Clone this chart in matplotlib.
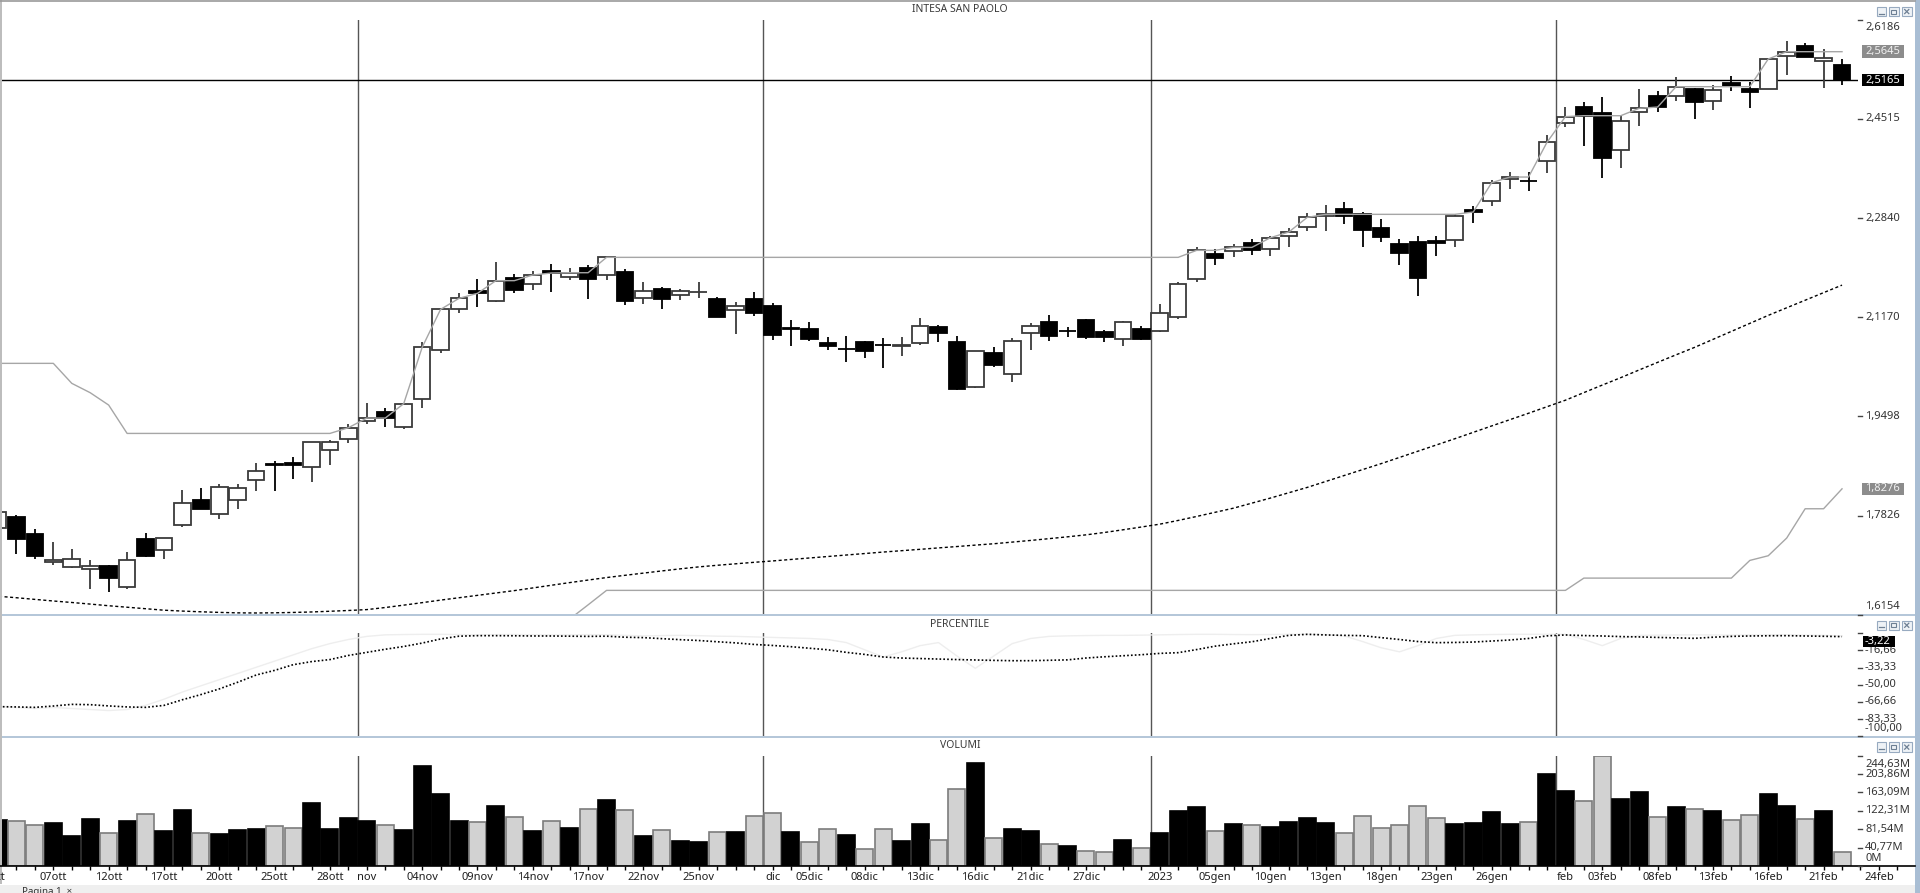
import matplotlib
matplotlib.use("Agg")
import matplotlib.pyplot as plt
from matplotlib import transforms
from matplotlib.patches import Rectangle
import numpy as np

plt.rcParams['font.family'] = ['Noto Sans', 'DejaVu Sans']

# ---------------- data ----------------
opens = [1.7609, 1.7794, 1.7513, 1.7041, 1.6963, 1.6923, 1.6980, 1.6625, 1.7423, 1.7244,
         1.7671, 1.8092, 1.7856, 1.8087, 1.8418, 1.8699, 1.8716, 1.8649, 1.8924, 1.9115,
         1.9424, 1.9576, 1.9312, 1.9784, 2.0616, 2.1301, 2.1610, 2.1447, 2.1835, 2.1728,
         2.1942, 2.1841, 2.2004, 2.1874, 2.1925, 2.1487, 2.1638, 2.1543, 2.1599, 2.1481,
         2.1290, 2.1475, 2.1363, 2.0981, 2.0970, 2.0728, 2.0638, 2.0745, 2.0705, 2.0683,
         2.0739, 2.1009, 2.0756, 1.9997, 2.0565, 2.0205, 2.0897, 2.1088, 2.0941, 2.1116,
         2.0925, 2.0807, 2.0970, 2.0936, 2.1178, 2.1818, 2.2228, 2.2279, 2.2414, 2.2318,
         2.2537, 2.2684, 2.2875, 2.2998, 2.2908, 2.2667, 2.2403, 2.2431, 2.2453, 2.2465,
         2.2970, 2.3122, 2.3493, 2.3470, 2.3808, 2.4448, 2.4718, 2.4611, 2.3982, 2.4623,
         2.4892, 2.4904, 2.5016, 2.4814, 2.5112, 2.5016, 2.5022, 2.5578, 2.5735, 2.5483,
         2.5415]
highs = [1.7950, 1.7834, 1.7592, 1.7373, 1.7260, 1.7075, 1.6985, 1.7204, 1.7525, 1.7450,
         1.8255, 1.8283, 1.8356, 1.8356, 1.8710, 1.8750, 1.8806, 1.9064, 1.9098, 1.9362,
         1.9716, 1.9632, 1.9711, 2.0756, 2.1310, 2.1582, 2.1813, 2.2094, 2.1891, 2.1953,
         2.2060, 2.1992, 2.2054, 2.2178, 2.1975, 2.1756, 2.1683, 2.1644, 2.1756, 2.1503,
         2.1419, 2.1599, 2.1414, 2.1121, 2.1093, 2.0829, 2.0857, 2.0773, 2.0812, 2.0829,
         2.1161, 2.1037, 2.0846, 2.0593, 2.0660, 2.0823, 2.1076, 2.1200, 2.1009, 2.1144,
         2.0953, 2.1104, 2.1026, 2.1385, 2.1768, 2.2346, 2.2324, 2.2403, 2.2487, 2.2537,
         2.2667, 2.2920, 2.3060, 2.3105, 2.2948, 2.2819, 2.2481, 2.2543, 2.2543, 2.2908,
         2.3049, 2.3482, 2.3611, 2.3622, 2.4240, 2.4718, 2.4802, 2.4875, 2.4566, 2.5016,
         2.4988, 2.5213, 2.5030, 2.5084, 2.5235, 2.5140, 2.5540, 2.5831, 2.5786, 2.5685,
         2.5527]
lows = [1.7550, 1.7170, 1.7086, 1.6996, 1.6934, 1.6592, 1.6541, 1.6586, 1.7131, 1.7098,
        1.7626, 1.7929, 1.7761, 1.7935, 1.8233, 1.8244, 1.8435, 1.8390, 1.8682, 1.9053,
        1.9368, 1.9323, 1.9278, 1.9643, 2.0559, 2.1245, 2.1335, 2.1425, 2.1576, 2.1621,
        2.1588, 2.1796, 2.1475, 2.1796, 2.1380, 2.1397, 2.1301, 2.1459, 2.1487, 2.1166,
        2.0880, 2.1189, 2.0784, 2.0689, 2.0773, 2.0616, 2.0419, 2.0475, 2.0307, 2.0520,
        2.0705, 2.0756, 1.9950, 1.9981, 2.0335, 2.0070, 2.0615, 2.0773, 2.0829, 2.0795,
        2.0756, 2.0683, 2.0784, 2.0925, 2.1138, 2.1768, 2.2043, 2.2189, 2.2223, 2.2206,
        2.2358, 2.2628, 2.2628, 2.2734, 2.2346, 2.2431, 2.2049, 2.1526, 2.2206, 2.2358,
        2.2762, 2.3049, 2.3324, 2.3296, 2.3594, 2.4381, 2.4055, 2.3510, 2.3678, 2.4392,
        2.4634, 2.4819, 2.4516, 2.4662, 2.4988, 2.4701, 2.5010, 2.5252, 2.5550, 2.5027,
        2.5089]
closes = [1.7889, 1.7429, 1.7148, 1.7075, 1.7086, 1.6968, 1.6771, 1.7069, 1.7148, 1.7446,
          1.8036, 1.7940, 1.8300, 1.8289, 1.8570, 1.8677, 1.8677, 1.9064, 1.9064, 1.9306,
          1.9469, 1.9463, 1.9711, 2.0660, 2.1301, 2.1487, 2.1571, 2.1785, 2.1621, 2.1880,
          2.1914, 2.1919, 2.1807, 2.2178, 2.1436, 2.1610, 2.1470, 2.1616, 2.1599, 2.1177,
          2.1352, 2.1245, 2.0868, 2.0964, 2.0801, 2.0683, 2.0627, 2.0604, 2.0694, 2.0700,
          2.1026, 2.0897, 1.9958, 2.0593, 2.0357, 2.0767, 2.1020, 2.0857, 2.0930, 2.0840,
          2.0835, 2.1088, 2.0801, 2.1234, 2.1734, 2.2296, 2.2172, 2.2346, 2.2302, 2.2509,
          2.2605, 2.2852, 2.2903, 2.2875, 2.2639, 2.2526, 2.2257, 2.1824, 2.2414, 2.2875,
          2.2942, 2.3437, 2.3532, 2.3460, 2.4117, 2.4550, 2.4566, 2.3858, 2.4482, 2.4690,
          2.4712, 2.5055, 2.4802, 2.5000, 2.5067, 2.4971, 2.5522, 2.5645, 2.5561, 2.5544,
          2.5165]

upper_line = [2.0391, 2.0391, 2.0391, 2.0391, 2.0054, 1.9896, 1.9688, 1.9210, 1.9210, 1.9210,
              1.9210, 1.9210, 1.9210, 1.9210, 1.9210, 1.9210, 1.9210, 1.9210, 1.9210, 1.9306,
              1.9469, 1.9469, 1.9711, 2.0660, 2.1301, 2.1487, 2.1571, 2.1785, 2.1785, 2.1880,
              2.1914, 2.1919, 2.1919, 2.2178, 2.2178, 2.2178, 2.2178, 2.2178, 2.2178, 2.2178,
              2.2178, 2.2178, 2.2178, 2.2178, 2.2178, 2.2178, 2.2178, 2.2178, 2.2178, 2.2178,
              2.2178, 2.2178, 2.2178, 2.2178, 2.2178, 2.2178, 2.2178, 2.2178, 2.2178, 2.2178,
              2.2178, 2.2178, 2.2178, 2.2178, 2.2178, 2.2296, 2.2296, 2.2346, 2.2346, 2.2509,
              2.2605, 2.2852, 2.2903, 2.2903, 2.2903, 2.2903, 2.2903, 2.2903, 2.2903, 2.2903,
              2.2942, 2.3437, 2.3532, 2.3532, 2.4117, 2.4550, 2.4566, 2.4566, 2.4566, 2.4690,
              2.4712, 2.5055, 2.5055, 2.5055, 2.5055, 2.5055, 2.5522, 2.5645, 2.5645, 2.5645,
              2.5645]
lower_start = 31
lower_line = [1.6080, 1.6320,                                                          # 31-32
              1.6564, 1.6564, 1.6564, 1.6564, 1.6564, 1.6564, 1.6564, 1.6564, 1.6564, 1.6564,  # 33-42
              1.6564, 1.6564, 1.6564, 1.6564, 1.6564, 1.6564, 1.6564, 1.6564, 1.6564, 1.6564,  # 43-52
              1.6564, 1.6564, 1.6564, 1.6564, 1.6564, 1.6564, 1.6564, 1.6564, 1.6564, 1.6564,  # 53-62
              1.6564, 1.6564, 1.6564, 1.6564, 1.6564, 1.6564, 1.6564, 1.6564, 1.6564, 1.6564,  # 63-72
              1.6564, 1.6564, 1.6564, 1.6564, 1.6564, 1.6564, 1.6564, 1.6564, 1.6564, 1.6564,  # 73-82
              1.6564, 1.6564, 1.6564,                                                  # 83-85
              1.6771, 1.6771, 1.6771, 1.6771, 1.6771, 1.6771, 1.6771, 1.6771, 1.6771,  # 86-94
              1.7069, 1.7148, 1.7446, 1.7940, 1.7940, 1.8276]                          # 95-100
ma_line = [1.6465, 1.6440, 1.6412, 1.6385, 1.6360, 1.6333, 1.6305, 1.6280, 1.6255, 1.6230,
           1.6215, 1.6203, 1.6193, 1.6185, 1.6183, 1.6186, 1.6192, 1.6200, 1.6212, 1.6225,
           1.6240, 1.6275, 1.6315, 1.6357, 1.6400, 1.6440, 1.6480, 1.6520, 1.6560, 1.6605,
           1.6650, 1.6695, 1.6738, 1.6780, 1.6818, 1.6855, 1.6892, 1.6927, 1.6960, 1.6987,
           1.7012, 1.7037, 1.7060, 1.7085, 1.7110, 1.7135, 1.7160, 1.7185, 1.7210, 1.7233,
           1.7256, 1.7280, 1.7303, 1.7327, 1.7350, 1.7378, 1.7406, 1.7436, 1.7467, 1.7500,
           1.7540, 1.7585, 1.7632, 1.7680, 1.7743, 1.7810, 1.7880, 1.7950, 1.8035, 1.8120,
           1.8210, 1.8300, 1.8400, 1.8500, 1.8600, 1.8700, 1.8805, 1.8910, 1.9015, 1.9120,
           1.9228, 1.9336, 1.9443, 1.9550, 1.9660, 1.9770, 1.9898, 2.0025, 2.0150, 2.0280,
           2.0408, 2.0535, 2.0660, 2.0795, 2.0930, 2.1065, 2.1200, 2.1328, 2.1455, 2.1583,
           2.1710]

percentile = [-71.2, -71.5, -71.9, -70.6, -69.0, -69.3, -70.5, -71.5, -71.9, -70.0,
              -64.5, -59.5, -54.0, -47.5, -40.5, -36.0, -30.5, -27.5, -25.5, -21.5,
              -18.5, -15.5, -12.8, -9.5, -5.5, -2.8, -2.3, -2.3, -2.4, -2.6,
              -2.6, -2.8, -3.0, -2.8, -3.8, -4.2, -5.2, -6.2, -7.0, -8.2,
              -9.3, -10.8, -11.8, -13.0, -14.5, -16.0, -18.5, -20.5, -23.0, -24.0,
              -24.5, -25.0, -25.5, -25.9, -26.3, -26.6, -26.6, -26.2, -25.8, -24.0,
              -22.8, -21.8, -20.8, -19.5, -18.8, -15.8, -12.5, -10.2, -8.2, -5.0,
              -2.0, -1.0, -1.6, -2.0, -2.3, -4.2, -6.0, -8.0, -9.1, -8.9,
              -8.5, -7.5, -6.5, -5.0, -2.5, -1.6, -2.2, -2.6, -3.2, -3.5,
              -4.0, -4.4, -4.9, -3.8, -3.0, -2.6, -2.4, -2.3, -2.6, -2.9,
              -3.22]
percentile_fast = [-71, -72, -73, -72, -73, -74, -75, -74, -70, -64,
                   -57, -51, -45, -39, -33, -27, -21, -15, -10, -6,
                   -3, -1.5, -1.2, -1.0, -1.0, -1.2, -1.5, -1.3, -1.2, -1.4,
                   -1.6, -1.5, -1.3, -1.4, -2.0, -2.5, -2.2, -2.0, -2.3, -2.8,
                   -3.0, -3.5, -4.0, -4.5, -5.0, -6.0, -9.0, -16, -23, -18,
                   -12, -9, -22, -34, -22, -10, -5, -3, -2.5, -2.2,
                   -2.0, -2.0, -1.8, -1.5, -1.2, -1.0, -1.0, -1.2, -1.3, -1.2,
                   -1.0, -1.0, -1.2, -2.5, -8, -14, -18, -12, -5, -2.0,
                   -1.5, -1.2, -1.0, -1.0, -1.0, -1.0, -6, -12, -5, -2.0,
                   -1.8, -1.6, -1.5, -1.6, -1.8, -1.6, -1.5, -1.5, -1.8, -2.0,
                   -2.5]

volumes = [102.0, 99.1, 91.0, 95.4, 67.3, 104.3, 73.9, 100.6, 114.6, 77.6,
           123.5, 72.5, 70.3, 79.9, 82.8, 88.0, 83.6, 139.0, 82.8, 105.7,
           99.1, 90.2, 79.1, 221.1, 158.9, 100.6, 96.9, 132.3, 108.0, 77.6,
           99.1, 85.0, 126.4, 146.4, 123.5, 67.3, 79.1, 55.5, 53.3, 74.7,
           74.7, 110.9, 116.8, 74.7, 53.3, 81.3, 68.8, 37.0, 81.3, 55.5,
           93.9, 57.7, 170.8, 227.7, 61.4, 81.3, 76.9, 49.6, 44.4, 34.0,
           31.8, 57.7, 39.2, 72.5, 122.0, 130.1, 77.6, 92.4, 90.2, 86.5,
           97.6, 105.7, 95.4, 72.5, 110.9, 85.0, 91.7, 133.8, 105.7, 93.9,
           95.4, 120.5, 93.9, 97.6, 203.3, 166.4, 144.9, 244.0, 148.6, 164.1,
           108.0, 130.1, 126.4, 122.0, 102.0, 112.4, 159.7, 132.3, 104.3, 122.0,
           30.3]
volume_dark = [1, 0, 0, 1, 1, 1, 0, 1, 0, 1,
               1, 0, 1, 1, 1, 0, 0, 1, 1, 1,
               1, 0, 1, 1, 1, 1, 0, 1, 0, 1,
               0, 1, 0, 1, 0, 1, 0, 1, 1, 0,
               1, 0, 0, 1, 0, 0, 1, 0, 0, 1,
               1, 0, 0, 1, 0, 1, 1, 0, 1, 0,
               0, 1, 0, 1, 1, 1, 0, 1, 0, 1,
               1, 1, 1, 0, 0, 0, 0, 0, 0, 1,
               1, 1, 1, 0, 1, 1, 0, 0, 1, 1,
               0, 1, 0, 1, 0, 0, 1, 1, 0, 1,
               0]

date_label_idx = [0, 3, 6, 9, 12, 15, 18, 20, 23, 26, 29, 32, 35, 38, 42, 44, 47, 50, 53, 56,
                  59, 63, 66, 69, 72, 75, 78, 81, 85, 87, 90, 93, 96, 99, 102]
date_labels = ["ott", "07ott", "12ott", "17ott", "20ott", "25ott", "28ott", "nov", "04nov", "09nov",
               "14nov", "17nov", "22nov", "25nov", "dic", "05dic", "08dic", "13dic", "16dic", "21dic",
               "27dic", "2023", "05gen", "10gen", "13gen", "18gen", "23gen", "26gen", "feb", "03feb",
               "08feb", "13feb", "16feb", "21feb", "24feb"]
month_start_idx = [20, 42, 63, 85]

price_ticks = [2.6186, 2.4515, 2.2840, 2.1170, 1.9498, 1.7826, 1.6154]
pct_ticks = [-16.66, -33.33, -50.00, -66.66, -83.33, -100.00]
vol_ticks = [0.0, 40.77, 81.54, 122.31, 163.09, 203.86, 244.63]

# ---------------- figure / layout ----------------
W, H = 1920, 893
fig = plt.figure(figsize=(W / 100, H / 100), dpi=100)
fig.patch.set_facecolor('white')


def rect_px(x0, y0, x1, y1):
    return [x0 / W, 1 - y1 / H, (x1 - x0) / W, (y1 - y0) / H]


PLOT_R = 1858
STEP = 18.44
X0 = -1.98
xlim = (-X0 / STEP, (PLOT_R - X0) / STEP)

axp = fig.add_axes(rect_px(0, 19.6, PLOT_R, 614.7))
axq = fig.add_axes(rect_px(0, 633.3, PLOT_R, 736.3))
axv = fig.add_axes(rect_px(0, 755.7, PLOT_R, 866.0))
for a in (axp, axq, axv):
    a.set_xlim(*xlim)
    a.set_axis_off()
    a.patch.set_alpha(0)
axp.set_ylim(price_ticks[-1], price_ticks[0])
axq.set_ylim(-100, 0)
axv.set_ylim(0, 244.63)

ov = fig.add_axes([0, 0, 1, 1], zorder=10)
ov.set_xlim(0, W)
ov.set_ylim(H, 0)
ov.set_axis_off()
ov.patch.set_alpha(0)

idx = np.arange(len(closes))
o = np.array(opens)
h = np.array(highs)
l = np.array(lows)
c = np.array(closes)
up = c >= o
lo_body = np.minimum(o, c)
hgt = np.abs(c - o)

# month separators
for a in (axp, axq, axv):
    for m in month_start_idx:
        a.axvline(m - 0.5, color='#555555', lw=1.0, zorder=0.5)

# price panel
axp.axhline(closes[-1], color='black', lw=1.0, zorder=1)
axp.vlines(idx[up], l[up], h[up], color='#3a3a3a', lw=1.3, zorder=3)
axp.vlines(idx[~up], l[~up], h[~up], color='black', lw=1.3, zorder=3)
axp.bar(idx[up], hgt[up], bottom=lo_body[up], width=0.9, facecolor='white',
        edgecolor='#3a3a3a', linewidth=1.3, zorder=4)
axp.bar(idx[~up], hgt[~up], bottom=lo_body[~up], width=0.9, facecolor='black',
        edgecolor='black', linewidth=1.3, zorder=4)
axp.plot(idx, upper_line, color='#a6a6a6', lw=1.0, zorder=5)
axp.plot(np.arange(lower_start, lower_start + len(lower_line)), lower_line,
         color='#a6a6a6', lw=1.0, zorder=5)
axp.plot(idx, ma_line, color='black', lw=1.0, ls=(0, (2.2, 1.8)), zorder=5)

# percentile panel
axq.plot(idx, percentile_fast, color='#eeeeee', lw=1.0, zorder=2)
axq.plot(idx, percentile, color='black', lw=1.2, ls=(0, (1.0, 1.3)), zorder=3)

# volume panel
vcol = ['black' if d else '#d2d2d2' for d in volume_dark]
vedge = ['black' if d else '#7c7c7c' for d in volume_dark]
axv.bar(idx, volumes, width=0.92, color=vcol, edgecolor=vedge, linewidth=1.2, zorder=2)


def ypx(ax, v):
    return H - ax.transData.transform((0, v))[1]


# x axis (baseline, ticks, labels)
base_y = ypx(axv, 0)
ov.plot([0, 1915], [base_y, base_y], color='black', lw=1.2)
blend = transforms.blended_transform_factory(axv.transData, ov.transData)
ov.vlines(np.arange(0, 104), base_y, base_y + 3.5, transform=blend, color='black', lw=1.0)
for i, lab in zip(date_label_idx, date_labels):
    ov.text(i, 877.5, lab, transform=blend, ha='center', va='center', fontsize=8,
            color='#1e1e1e', clip_on=False)

LAB_X = 1865
TICK_COL = '#444444'


def comma(v, nd):
    return f"{v:.{nd}f}".replace('.', ',')


# price axis labels
for t in price_ticks:
    yt = ypx(axp, t)
    ov.plot([1858, 1862], [yt, yt], color=TICK_COL, lw=1.0)
    yl = yt
    if t == price_ticks[0]:
        yl = yt + 7.7
    if t == price_ticks[-1]:
        yl = yt - 8.0
    ov.text(LAB_X, yl, comma(t, 4), ha='left', va='center', fontsize=8, color='#333333')

# percentile axis labels
ov.plot([1858, 1862], [ypx(axq, 0), ypx(axq, 0)], color=TICK_COL, lw=1.0)
for t in pct_ticks:
    yt = ypx(axq, t)
    ov.plot([1858, 1862], [yt, yt], color=TICK_COL, lw=1.0)
    yl = yt
    if t == pct_ticks[-1]:
        yl = yt - 7.3
    ov.text(LAB_X, yl, comma(t, 2), ha='left', va='center', fontsize=8, color='#333333')

# volume axis labels
for t in vol_ticks:
    yt = ypx(axv, t)
    ov.plot([1858, 1862], [yt, yt], color=TICK_COL, lw=1.0)
    yl = yt
    if t == vol_ticks[-1]:
        yl = yt + 9.3
    if t == vol_ticks[0]:
        yl = yt - 7.7
    s = "0M" if t == 0 else comma(t, 2) + "M"
    ov.text(LAB_X, yl, s, ha='left', va='center', fontsize=8, color='#333333')


def value_box(yc, text, face, tcol, x0=1861.5, x1=1903.5, hh=12.4):
    ov.add_patch(Rectangle((x0, yc - hh / 2), x1 - x0, hh, facecolor=face, edgecolor='none', zorder=5))
    ov.text(LAB_X, yc, text, ha='left', va='center', fontsize=8, color=tcol, zorder=6)


value_box(ypx(axp, upper_line[-1]), comma(upper_line[-1], 4), '#8c8c8c', '#f0f0f0')
value_box(ypx(axp, lower_line[-1]), comma(lower_line[-1], 4), '#8c8c8c', '#f0f0f0')
value_box(ypx(axp, closes[-1]), comma(closes[-1], 4), 'black', 'white')
value_box(ypx(axq, percentile[-1]) + 5.0, comma(percentile[-1], 2), 'black', 'white',
          x0=1863, x1=1895, hh=11.5)

# panel separators, borders
for ys in (613.6, 735.6):
    ov.add_patch(Rectangle((0, ys), 1915, 2.6, facecolor='#b5c7d9', edgecolor='none'))
ov.add_patch(Rectangle((0, 0), 1.8, 884, facecolor='#bdbdbd', edgecolor='none'))
ov.plot([0, 1915], [0.6, 0.6], color='#9a9a9a', lw=1.2)
ov.add_patch(Rectangle((1915, 0), 5, H, facecolor='#a9bed4', edgecolor='none'))
ov.add_patch(Rectangle((0, 884.5), 1915, 9, facecolor='#efefef', edgecolor='none'))
ov.text(22, 886.5, "Pagina 1  \u00d7", ha='left', va='top', fontsize=7, color='#333333')

# panel titles
for ty, tt in ((9.8, "INTESA SAN PAOLO"), (624.5, "PERCENTILE"), (745.8, "VOLUMI")):
    ov.text(960, ty, tt, ha='center', va='center', fontsize=7.5, color='#3a3a3a')

# window buttons
for by in (6.8, 620.5, 742.4):
    for k, bx in enumerate((1876.5, 1889, 1902)):
        ov.add_patch(Rectangle((bx, by), 9.5, 9.5, facecolor='#eef2f6', edgecolor='#97aac0', lw=0.8))
        if k == 0:
            ov.plot([bx + 2.5, bx + 7], [by + 6.8, by + 6.8], color='#6d7f93', lw=0.9)
        elif k == 1:
            ov.add_patch(Rectangle((bx + 2.3, by + 2.8), 5, 4, facecolor='none', edgecolor='#6d7f93', lw=0.8))
        else:
            ov.plot([bx + 2.7, bx + 6.8], [by + 2.7, by + 6.8], color='#6d7f93', lw=0.9)
            ov.plot([bx + 2.7, bx + 6.8], [by + 6.8, by + 2.7], color='#6d7f93', lw=0.9)

fig.savefig("out.png", dpi=100, facecolor='white')
